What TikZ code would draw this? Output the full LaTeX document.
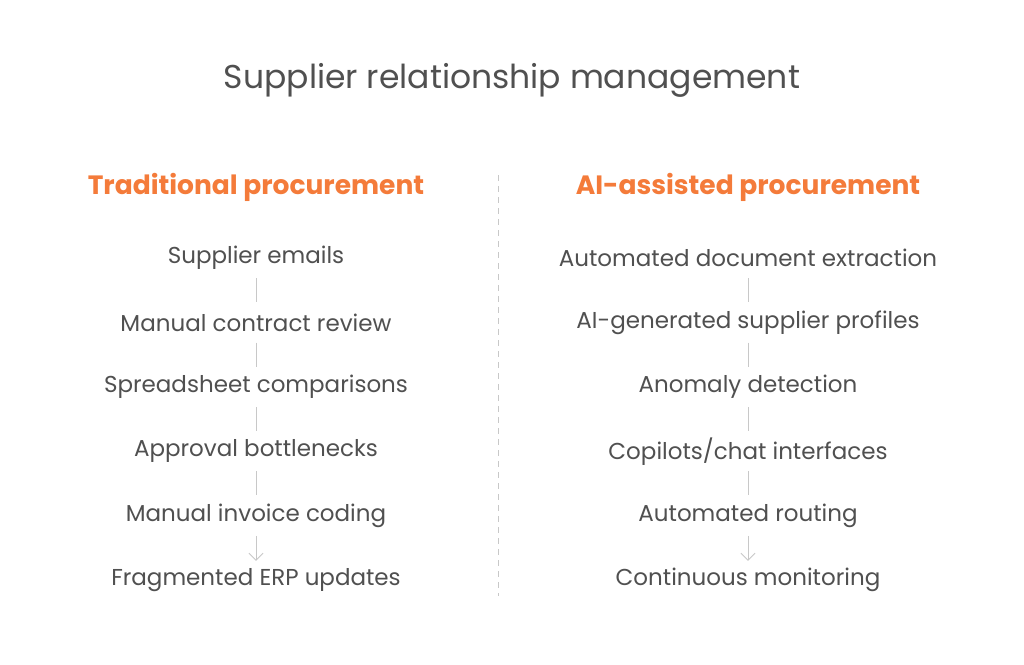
\documentclass[tikz,border=0pt]{standalone}
\usepackage{fontspec}
\setmainfont{Poppins}
\usetikzlibrary{arrows.meta}
\definecolor{txt}{HTML}{505050}
\definecolor{org}{HTML}{F47B3A}
\definecolor{ln}{HTML}{C8C8C8}
\begin{document}
\begin{tikzpicture}[x=1pt,y=-1pt,
  item/.style={text=txt,font=\fontsize{23}{26}\selectfont,inner sep=0pt,minimum height=40pt,anchor=center},
  hdr/.style={text=org,font=\fontsize{26.5}{30}\selectfont\bfseries},
  conn/.style={draw=ln,line width=0.9pt},
  arr/.style={conn,-{Straight Barb[length=7pt,width=14pt,line width=0.9pt]}}]
\useasboundingbox[fill=white] (0,0) rectangle (1024,664);
\node[text=txt,font=\fontsize{33}{38}\selectfont] (title) at (512,80) {Supplier relationship management};
\node[hdr] (hl) at (256,187) {Traditional procurement};
\node[hdr] (hr) at (748,187) {AI-assisted procurement};
\draw[ln,line width=0.9pt,dash pattern=on 6pt off 5pt] (498,175) -- (498,596);
\foreach \t [count=\i] in {Supplier emails,Manual contract review,Spreadsheet comparisons,Approval bottlenecks,Manual invoice coding,Fragmented ERP updates}
  \node[item] (l\i) at (256,{258+64.4*(\i-1)}) {\t};
\foreach \t [count=\i] in {Automated document extraction,AI-generated supplier profiles,Anomaly detection,Copilots/chat interfaces,Automated routing,Continuous monitoring}
  \node[item] (r\i) at (748,{258+64.4*(\i-1)}) {\t};
\foreach \a/\b in {1/2,2/3,3/4,4/5}{
  \draw[conn] (l\a.south) -- (l\b.north);
  \draw[conn] (r\a.south) -- (r\b.north);}
\draw[arr] (l5.south) -- ([yshift=-1pt]l6.north);
\draw[arr] (r5.south) -- ([yshift=-1pt]r6.north);
\end{tikzpicture}
\end{document}
